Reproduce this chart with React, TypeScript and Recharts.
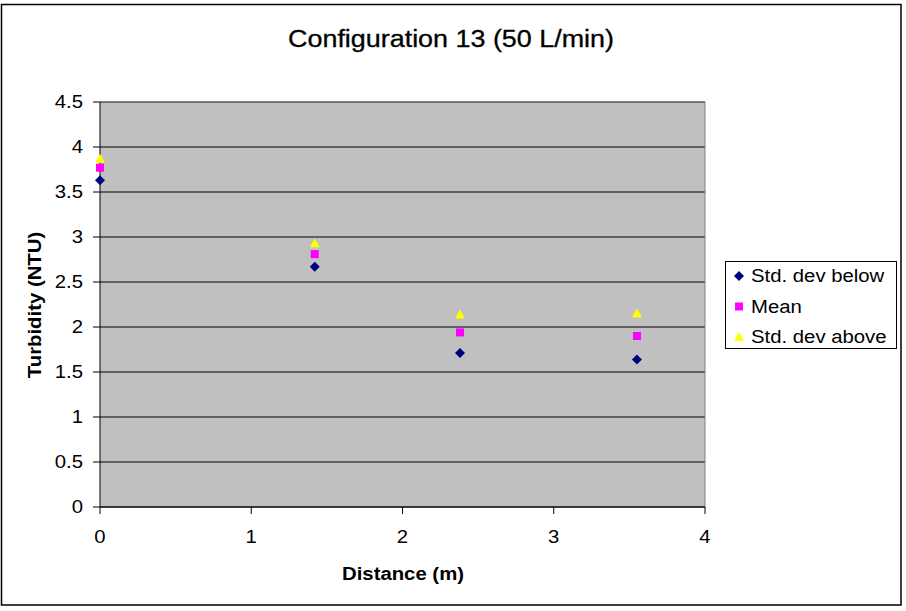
import {
  ScatterChart,
  Scatter,
  XAxis,
  YAxis,
  CartesianGrid,
  ReferenceLine,
} from "recharts";

const distances = [0, 1.42, 2.38, 3.55];
const stdBelow = [3.63, 2.67, 1.71, 1.64];
const means = [3.77, 2.81, 1.94, 1.9];
const stdAbove = [3.87, 2.93, 2.14, 2.15];

const xTicks = [0, 1, 2, 3, 4];
const yTicks = [0, 0.5, 1, 1.5, 2, 2.5, 3, 3.5, 4, 4.5];
const seriesNames = ["Std. dev below", "Mean", "Std. dev above"];
const seriesColors = ["#000080", "#ff00ff", "#ffff00"];

const title = "Configuration 13 (50 L/min)";
const xLabel = "Distance (m)";
const yLabel = "Turbidity (NTU)";

const FONT = "'Liberation Sans', Arial, sans-serif";

const toPoints = (ys: number[]) => distances.map((x, i) => ({ x, y: ys[i] }));

const Diamond = (p: any) => (
  <polygon
    points={`${p.cx},${p.cy - 5} ${p.cx + 5},${p.cy} ${p.cx},${p.cy + 5} ${p.cx - 5},${p.cy}`}
    fill={p.fill}
  />
);
const Square = (p: any) => (
  <rect x={p.cx - 4} y={p.cy - 4} width={8} height={8} fill={p.fill} />
);
const Triangle = (p: any) => (
  <polygon
    points={`${p.cx},${p.cy - 5} ${p.cx + 5},${p.cy + 4} ${p.cx - 5},${p.cy + 4}`}
    fill={p.fill}
  />
);
const shapes = [Diamond, Square, Triangle];

const YTick = ({ x, y, payload }: any) => (
  <text
    transform={`translate(${x - 8},${y}) scale(1.13,1)`}
    textAnchor="end"
    dy="0.36em"
    fontSize={18}
    fontFamily={FONT}
    fill="#000"
  >
    {payload.value}
  </text>
);

const XTick = ({ x, y, payload }: any) => (
  <text
    transform={`translate(${x},${y + 27}) scale(1.13,1)`}
    textAnchor="middle"
    fontSize={18}
    fontFamily={FONT}
    fill="#000"
  >
    {payload.value}
  </text>
);

const Overlay = () => (
  <svg
    width={906}
    height={611}
    style={{ position: "absolute", left: 0, top: 0, pointerEvents: "none" }}
  >
    <rect x={1.5} y={4.5} width={899.5} height={600.5} fill="none" stroke="#000" strokeWidth={1.5} />
    <text
      transform="translate(451,47) scale(1.17,1)"
      textAnchor="middle"
      fontSize={23}
      fontFamily={FONT}
      fill="#000"
      stroke="#000"
      strokeWidth={0.3}
    >
      {title}
    </text>
    <text
      transform="translate(403,580) scale(1.13,1)"
      textAnchor="middle"
      fontSize={18}
      fontWeight="bold"
      fontFamily={FONT}
      fill="#000"
    >
      {xLabel}
    </text>
    <text
      transform="translate(41,305) rotate(-90) scale(1.13,1)"
      textAnchor="middle"
      fontSize={18}
      fontWeight="bold"
      fontFamily={FONT}
      fill="#000"
    >
      {yLabel}
    </text>
    <rect x={725.5} y={261.5} width={171} height={87} fill="#fff" stroke="#000" strokeWidth={1} />
    {seriesNames.map((name, i) => {
      const cy = 276 + i * 30.5;
      const Shape = shapes[i];
      return (
        <g key={name}>
          <Shape cx={739} cy={cy} fill={seriesColors[i]} />
          <text
            transform={`translate(751,${cy}) scale(1.13,1)`}
            dy="0.36em"
            fontSize={18}
            fontFamily={FONT}
            fill="#000"
          >
            {name}
          </text>
        </g>
      );
    })}
  </svg>
);

export default function App() {
  const series = [stdBelow, means, stdAbove];
  return (
    <div
      style={{
        position: "absolute",
        left: 0,
        top: 0,
        width: 906,
        height: 611,
        background: "#fff",
      }}
    >
      <ScatterChart
        width={906}
        height={611}
        margin={{ top: 102, right: 201, bottom: 74, left: 60 }}
      >
        <CartesianGrid fill="#c0c0c0" stroke="#000" vertical={false} />
        <XAxis
          type="number"
          dataKey="x"
          domain={[0, 4]}
          ticks={xTicks}
          height={30}
          stroke="#000"
          tickSize={7}
          tick={<XTick />}
        />
        <YAxis
          type="number"
          dataKey="y"
          domain={[0, 4.5]}
          ticks={yTicks}
          width={40}
          stroke="#000"
          tickSize={7}
          tick={<YTick />}
        />
        <ReferenceLine y={4.5} stroke="#808080" />
        <ReferenceLine x={4} stroke="#808080" />
        {series.map((ys, i) => (
          <Scatter
            key={seriesNames[i]}
            name={seriesNames[i]}
            data={toPoints(ys)}
            fill={seriesColors[i]}
            shape={shapes[i]}
            isAnimationActive={false}
          />
        ))}
      </ScatterChart>
      <Overlay />
    </div>
  );
}
